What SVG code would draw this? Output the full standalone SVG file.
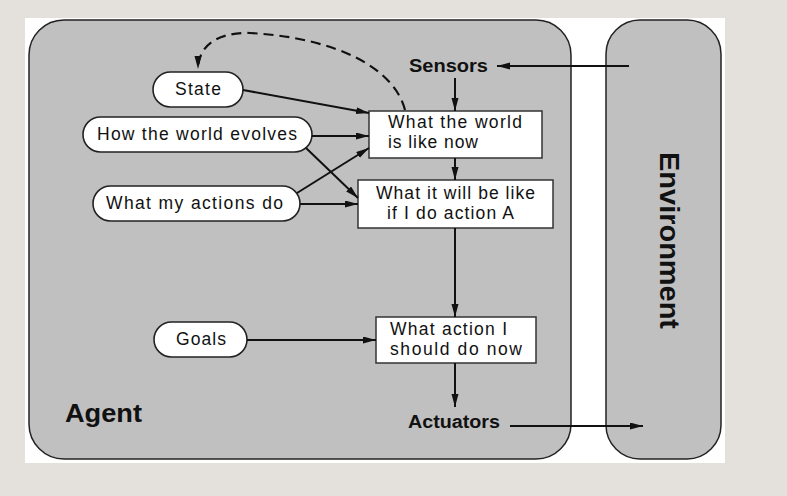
<svg xmlns="http://www.w3.org/2000/svg" width="787" height="496" viewBox="0 0 787 496">
  <defs>
    <marker id="ah" markerUnits="userSpaceOnUse" markerWidth="14" markerHeight="8" refX="13" refY="3.5" orient="auto">
      <path d="M0,0 L13,3.5 L0,7 z" fill="#111"/>
    </marker>
    <style>
      .panel { fill: #c0c0c0; stroke: #222; stroke-width: 1.5; }
      .oval { fill: #ffffff; stroke: #222; stroke-width: 1.6; }
      .box { fill: #ffffff; stroke: #333; stroke-width: 1.5; }
      .t { font-family: "Liberation Sans", Arial, sans-serif; font-size: 17.5px; fill: #111; }
      .b { font-family: "Liberation Sans", Arial, sans-serif; font-weight: bold; fill: #111; }
      .c { stroke: #111; stroke-width: 2; fill: none; marker-end: url(#ah); }
      .d { stroke: #111; stroke-width: 2.2; fill: none; stroke-dasharray: 10 6; marker-end: url(#ah); }
    </style>
  </defs>
  <rect x="0" y="0" width="787" height="496" fill="#e4e1dc"/>
  <rect x="25" y="18" width="700" height="445" fill="#ffffff"/>

  <g id="agent">
    <rect class="panel" x="29" y="20" width="542" height="439" rx="35" ry="35"/>
    <text class="b" x="65" y="422" font-size="26" textLength="77" lengthAdjust="spacingAndGlyphs">Agent</text>
  </g>
  <g id="environment">
    <rect class="panel" x="606" y="20" width="115" height="439" rx="34" ry="34"/>
    <text class="b" font-size="28" text-anchor="middle" transform="translate(660,240.5) rotate(90)" textLength="177" lengthAdjust="spacingAndGlyphs">Environment</text>
  </g>
  <g id="sensors">
    <text class="b" x="409" y="72" font-size="18" textLength="79" lengthAdjust="spacingAndGlyphs">Sensors</text>
  </g>
  <g id="actuators">
    <text class="b" x="408" y="428" font-size="18" textLength="92" lengthAdjust="spacingAndGlyphs">Actuators</text>
  </g>

  <g id="state">
    <rect class="oval" x="153" y="72" width="90" height="35" rx="17.5"/>
    <text class="t" x="175" y="95" textLength="46" lengthAdjust="spacing">State</text>
  </g>
  <g id="how-world-evolves">
    <rect class="oval" x="83" y="117" width="229" height="35" rx="17.5"/>
    <text class="t" x="97" y="140" textLength="200" lengthAdjust="spacing">How the world evolves</text>
  </g>
  <g id="what-my-actions-do">
    <rect class="oval" x="93" y="186" width="207" height="35" rx="17.5"/>
    <text class="t" x="106" y="209" textLength="177" lengthAdjust="spacing">What my actions do</text>
  </g>
  <g id="goals">
    <rect class="oval" x="154" y="322" width="93" height="35" rx="17.5"/>
    <text class="t" x="176" y="345" textLength="50" lengthAdjust="spacing">Goals</text>
  </g>

  <g id="world-now">
    <rect class="box" x="369" y="111" width="173" height="47"/>
    <text class="t" x="388" y="128" textLength="134" lengthAdjust="spacing">What the world</text>
    <text class="t" x="388" y="148" textLength="90" lengthAdjust="spacing">is like now</text>
  </g>
  <g id="will-be-like">
    <rect class="box" x="358" y="180" width="195" height="48"/>
    <text class="t" x="376" y="199" textLength="159" lengthAdjust="spacing">What it will be like</text>
    <text class="t" x="387" y="219" textLength="127" lengthAdjust="spacing">if I do action A</text>
  </g>
  <g id="action-now">
    <rect class="box" x="376" y="317" width="160" height="46"/>
    <text class="t" x="390" y="335" textLength="117" lengthAdjust="spacing">What action I</text>
    <text class="t" x="390" y="355" textLength="132" lengthAdjust="spacing">should do now</text>
  </g>

  <g id="connectors">
    <line class="c" x1="629" y1="66" x2="497" y2="66"/>
    <line class="c" x1="455" y1="78" x2="455" y2="111"/>
    <line class="c" x1="455" y1="158" x2="455" y2="180"/>
    <line class="c" x1="455" y1="228" x2="455" y2="317"/>
    <line class="c" x1="455" y1="363" x2="455" y2="407"/>
    <line class="c" x1="510" y1="426" x2="643" y2="426"/>
    <line class="c" x1="243" y1="90" x2="369" y2="113"/>
    <line class="c" x1="312" y1="136" x2="369" y2="136"/>
    <line class="c" x1="306" y1="148" x2="358" y2="198"/>
    <line class="c" x1="297" y1="193" x2="369" y2="148"/>
    <line class="c" x1="300" y1="204" x2="358" y2="204"/>
    <line class="c" x1="247" y1="340" x2="376" y2="340"/>
    <path class="d" d="M405 110 C395 70, 340 38, 250 33 C215 32, 198 48, 198 69"/>
  </g>
</svg>
